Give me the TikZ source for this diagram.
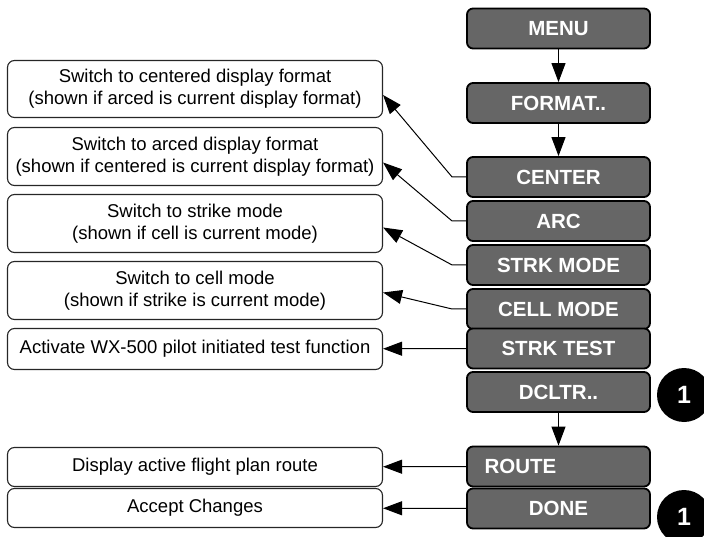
\documentclass[tikz,border=0pt]{standalone}
\usepackage{fontspec}
\setmainfont{Liberation Sans}
\usetikzlibrary{arrows.meta}

\definecolor{btngray}{HTML}{666666}

\tikzset{
  menubtn/.style={draw=black, line width=1.8pt, fill=btngray, rounded corners=6pt,
    minimum width=183pt, minimum height=40pt, inner sep=0pt, text=white,
    font=\fontsize{20.5}{24}\selectfont\bfseries},
  descbox/.style={draw=black!85, line width=1.1pt, rounded corners=7pt,
    minimum width=375pt, align=center, inner sep=0pt,
    font=\fontsize{18.5}{22}\selectfont},
  flow/.style={line width=1pt, -{Triangle[length=19pt,width=14pt]}},
  notemark/.style={circle, fill=black, minimum size=54pt, inner sep=0pt, text=white,
    font=\fontsize{25}{30}\selectfont\bfseries}
}

\begin{document}
\begin{tikzpicture}[x=1pt, y=-1pt]
  \useasboundingbox (0,0) rectangle (704,537);
  \clip (0,0) rectangle (704,537);

  % menu buttons
  \node[menubtn] (menu)   at (558.5,28.5) {MENU};
  \node[menubtn] (format) at (558.5,103)  {FORMAT..};
  \node[menubtn] (center) at (558.5,177)  {CENTER};
  \node[menubtn] (arc)    at (558.5,221)  {ARC};
  \node[menubtn] (strk)   at (558.5,265)  {STRK MODE};
  \node[menubtn] (cell)   at (558.5,309)  {CELL MODE};
  \node[menubtn] (test)   at (558.5,348.5) {STRK TEST};
  \node[menubtn] (dcltr)  at (558.5,392)  {DCLTR..};
  \node[menubtn, text width=148pt, inner xsep=17.5pt, align=left] (route) at (558.5,466.5) {ROUTE};
  \node[menubtn] (done)   at (558.5,508.5) {DONE};

  % descriptions
  \node[descbox, minimum height=57pt] (d1) at (195,89)
    {Switch to centered display format\\(shown if arced is current display format)};
  \node[descbox, minimum height=58pt] (d2) at (195,156.5)
    {Switch to arced display format\\(shown if centered is current display format)};
  \node[descbox, minimum height=58pt] (d3) at (195,223.5)
    {Switch to strike mode\\(shown if cell is current mode)};
  \node[descbox, minimum height=58pt] (d4) at (195,290.5)
    {Switch to cell mode\\(shown if strike is current mode)};
  \node[descbox, minimum height=41pt] (d5) at (195,349)
    {Activate WX-500 pilot initiated test function};
  \node[descbox, minimum height=39pt] (d6) at (195,467)
    {Display active flight plan route};
  \node[descbox, minimum height=39pt] (d7) at (195,508)
    {Accept Changes};

  % notes
  \node[notemark] (n1) at (684,395) {1};
  \node[notemark] (n2) at (684,517) {1};

  % flow
  \draw[flow] (menu) -- (format);
  \draw[flow] (format) -- (center);
  \draw[flow] (dcltr) -- (route);

  \draw[flow] (center.west) -- ++(-14,0) -- ([yshift=-6pt]d1.east);
  \draw[flow] (arc.west) -- ++(-14,0) -- ([yshift=-6pt]d2.east);
  \draw[flow] (strk.west) -- ++(-14,0) -- ([yshift=-4pt]d3.east);
  \draw[flow] (cell.west) -- ++(-14,0) -- ([yshift=-2pt]d4.east);
  \draw[flow] (test) -- (d5);
  \draw[flow] (route) -- (d6);
  \draw[flow] (done) -- (d7);
\end{tikzpicture}
\end{document}
